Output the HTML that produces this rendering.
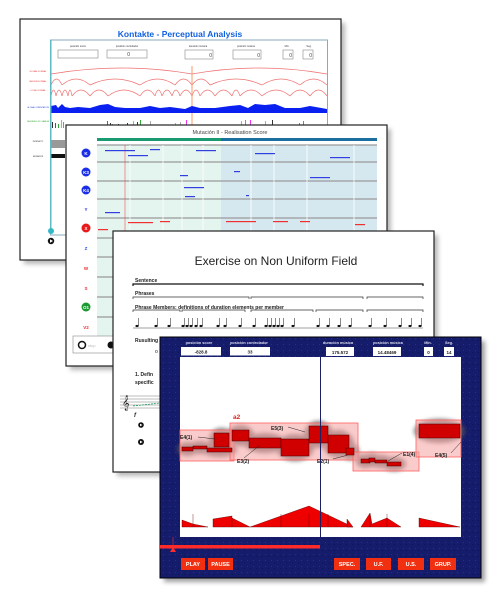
<!DOCTYPE html>
<html><head><meta charset="utf-8">
<style>
html,body{margin:0;padding:0;background:#fff;width:500px;height:600px;overflow:hidden}
svg{display:block;font-family:"Liberation Sans",sans-serif}
</style></head>
<body>
<svg id="s" width="500" height="600" viewBox="0 0 500 600">
<defs>
<filter id="sh" x="-10%" y="-10%" width="130%" height="130%"><feGaussianBlur stdDeviation="2.5"/></filter>
<filter id="bl" x="-30%" y="-50%" width="160%" height="200%"><feGaussianBlur stdDeviation="2.2"/></filter>
<pattern id="noise" width="6" height="6" patternUnits="userSpaceOnUse"><rect width="6" height="6" fill="#161c6c"/><rect x="1" y="2" width="1" height="1" fill="#2a3080"/><rect x="4" y="4" width="1" height="1" fill="#0e1358"/></pattern>
</defs>

<!-- PANEL 1 -->
<g>
<rect x="24" y="23" width="321" height="241" fill="#888" opacity="0.6" filter="url(#sh)"/>
<rect x="20" y="19" width="321" height="241" fill="#fff" stroke="#222" stroke-width="1.2"/>
<text x="180" y="37" text-anchor="middle" font-size="8.5" font-weight="bold" fill="#1060e0">Kontakte - Perceptual Analysis</text>
<rect x="50.5" y="40" width="277" height="195" fill="none" stroke="#8ab" stroke-width="1"/>
<g font-size="2.5" fill="#333" text-anchor="middle">
<text x="78" y="47">posición score</text><text x="127" y="47">posición controlador</text><text x="198" y="47">duración música</text><text x="246" y="47">posición música</text><text x="287" y="47">Min.</text><text x="309" y="47">Seg.</text></g>
<g fill="#fff" stroke="#888" stroke-width="0.6">
<rect x="58" y="50" width="40" height="8"/>
<rect x="107" y="50" width="40" height="8"/>
<rect x="185" y="50" width="28" height="9"/>
<rect x="233" y="50" width="28" height="9"/>
<rect x="283" y="50" width="10" height="9"/>
<rect x="303" y="50" width="10" height="9"/></g>
<g font-size="5" fill="#444" text-anchor="end"><text x="130" y="56">0</text><text x="212" y="57">0</text><text x="260" y="57">0</text><text x="292" y="57">0</text><text x="312" y="57">0</text></g>
<g font-size="2" fill="#e03030" text-anchor="middle"><text x="38" y="72">GLOBAL FORMAL</text><text x="38" y="82">MEDIUM FORMAL</text><text x="38" y="91">LOCAL FORMAL</text></g>
<text x="38" y="108" font-size="2" fill="#2040d0" text-anchor="middle">GLOBAL ORIENTATION</text>
<text x="38" y="122" font-size="2" fill="#20a020" text-anchor="middle">DEGREES OF CHANGE</text>
<text x="38" y="142" font-size="2" fill="#222" text-anchor="middle">INTENSITY</text>
<text x="38" y="157" font-size="2" fill="#222" text-anchor="middle">MOMENTS</text>
<g id="arcs" fill="none" stroke="#f07070" stroke-width="0.7"></g>
<line x1="192" y1="66" x2="192" y2="128" stroke="#f6a070" stroke-width="1.5" opacity="0.7"/>
<path d="M51,113 L51,106 L56,105 L58,108 L62,104 L65,107 L70,108 L78,107 L90,108 L100,105 L108,104 L115,107 L125,108 L140,108 L150,106 L160,108 L170,107 L185,109 L192,106 L200,108 L215,108 L230,106 L240,105 L248,108 L255,104 L265,105 L275,104 L285,108 L300,108 L310,106 L327,109 L327,113 Z" fill="#0a20f0"/>
<g id="bars1"></g>
<rect x="51" y="140" width="14" height="8" fill="#555" opacity="0.6"/>
<rect x="51" y="154" width="14" height="4" fill="#111"/>
<line x1="51" y1="40" x2="51" y2="230" stroke="#3cc" stroke-width="1"/>
<circle cx="51" cy="231" r="3" fill="#33b8c8"/>
<circle cx="51" cy="241" r="3.2" fill="#111"/>
<path d="M50,239.3 L53,241 L50,242.7Z" fill="#fff"/>
</g>

<!-- PANEL 2 -->
<g>
<rect x="70" y="129" width="321" height="241" fill="#888" opacity="0.6" filter="url(#sh)"/>
<rect x="66" y="125" width="321" height="241" fill="#fff" stroke="#222" stroke-width="1.2"/>
<text x="230" y="134" text-anchor="middle" font-size="5.5" fill="#444">Mutación II - Realisation Score</text>
<rect x="97" y="138" width="124" height="3" fill="#1a9a70"/>
<rect x="221" y="138" width="156" height="3" fill="#1a6fa0"/>
<rect x="97" y="145" width="124" height="195" fill="#e4f4ef"/>
<rect x="221" y="145" width="156" height="195" fill="#d6e8ef"/>
<g id="grid2" stroke="#999" stroke-width="0.8"></g>
<line x1="125" y1="145" x2="125" y2="240" stroke="#f05050" stroke-width="0.6"/>
<g id="notes2"></g>
<g font-size="4.5" font-weight="bold" text-anchor="middle">
<circle cx="86" cy="153" r="4.5" fill="#1a2ee8"/><text x="86" y="154.8" fill="#fff">K</text>
<circle cx="86" cy="172" r="4.5" fill="#1a2ee8"/><text x="86" y="173.8" fill="#fff">K3</text>
<circle cx="86" cy="190" r="4.5" fill="#1a2ee8"/><text x="86" y="191.8" fill="#fff">K4</text>
<text x="86" y="211" fill="#1a2ee8">Y</text>
<circle cx="86" cy="228" r="4.5" fill="#e81a1a"/><text x="86" y="229.8" fill="#fff">X</text>
<text x="86" y="250" fill="#1a5ae8">Z</text>
<text x="86" y="270" fill="#e83030">W</text>
<text x="86" y="290" fill="#e83030">S</text>
<circle cx="86" cy="307" r="4.5" fill="#1a9a30"/><text x="86" y="308.8" fill="#fff">O1</text>
<text x="86" y="329" fill="#e83030">V2</text></g>
<rect x="73" y="336" width="50" height="17" fill="#fff" stroke="#888" stroke-width="0.6"/>
<circle cx="82" cy="345" r="3.5" fill="none" stroke="#111" stroke-width="1.5"/>
<text x="88" y="347" font-size="4" fill="#bbb">stop</text>
<circle cx="111" cy="345" r="3.5" fill="#111"/>
</g>

<!-- PANEL 3 -->
<g>
<rect x="117" y="235" width="321" height="241" fill="#888" opacity="0.6" filter="url(#sh)"/>
<rect x="113" y="231" width="321" height="241" fill="#fff" stroke="#222" stroke-width="1.2"/>
<text x="276" y="265" text-anchor="middle" font-size="12" fill="#222">Exercise on Non Uniform Field</text>
<g font-size="5" font-weight="bold" fill="#222">
<text x="135" y="282">Sentence</text><text x="135" y="295">Phrases</text>
<text x="135" y="309">Phrase Members: definitions of duration elements per member</text>
<text x="135" y="342">Rusulting</text><text x="135" y="376">1. Defin</text><text x="135" y="384">specific</text></g>
<path d="M133,286 V284 H423 V286" fill="none" stroke="#111" stroke-width="1.2"/>
<g fill="none" stroke="#333" stroke-width="0.7">
<path d="M133,299 V297 H249 V299"/><path d="M251,299 V297 H363 V299"/><path d="M367,299 V297 H423 V299"/>
<path d="M133,312 V310 H180 V312"/><path d="M182,312 V310 H245 V312"/><path d="M251,312 V310 H313 V312"/><path d="M316,312 V310 H363 V312"/><path d="M367,312 V310 H423 V312"/></g>
<g id="notes3"></g>
<line x1="133" y1="328" x2="423" y2="328" stroke="#444" stroke-width="0.5"/>
<text x="155" y="353" font-size="5" fill="#222">o</text>
<g stroke="#555" stroke-width="0.4"><line x1="120" y1="396" x2="160" y2="396"/><line x1="120" y1="399" x2="160" y2="399"/><line x1="120" y1="402" x2="160" y2="402"/><line x1="120" y1="405" x2="160" y2="405"/><line x1="120" y1="408" x2="160" y2="408"/></g>
<text x="122" y="407" font-size="13" fill="#222">𝄞</text>
<line x1="133" y1="406" x2="160" y2="403" stroke="#20a060" stroke-width="0.8" stroke-dasharray="2,1"/>
<text x="134" y="417" font-size="6" font-style="italic" font-weight="bold" fill="#222">f</text>
<circle cx="141" cy="425" r="2.8" fill="#111"/>
<circle cx="141" cy="442" r="3" fill="#111"/>
<path d="M140,423.8 L142.5,425 L140,426.2Z M140,440.6 L142.7,442 L140,443.4Z" fill="#fff"/>
</g>

<!-- PANEL 4 -->
<g>
<rect x="164" y="341" width="321" height="241" fill="#777" opacity="0.7" filter="url(#sh)"/>
<rect x="160" y="337" width="321" height="241" fill="url(#noise)" stroke="#000" stroke-width="1"/>
<g font-size="3.8" font-weight="bold" fill="#dde" text-anchor="middle">
<text x="199" y="344">posición score</text><text x="249" y="344">posición controlador</text><text x="338" y="344">duración música</text><text x="388" y="344">posición música</text><text x="428" y="344">Min.</text><text x="449" y="344">Seg.</text></g>
<g fill="#fff"><rect x="181" y="347" width="40" height="8.5"/>
<rect x="230" y="347" width="40" height="8.5"/>
<rect x="326" y="347" width="28" height="9"/>
<rect x="373" y="347" width="28" height="9"/>
<rect x="424" y="347" width="9" height="9"/>
<rect x="444" y="347" width="10" height="9"/></g>
<g font-size="4.5" font-weight="bold" fill="#222" text-anchor="middle">
<text x="201" y="353.5">-828.8</text><text x="250" y="353.5">33</text><text x="340" y="354">175.572</text><text x="387" y="354">14.48469</text><text x="428.5" y="354">0</text><text x="449" y="354">14</text></g>
<rect x="180" y="357" width="281" height="180" fill="#fff"/>
<g id="shadows" fill="#555" opacity="0.75" filter="url(#bl)"></g>
<g id="boxes" fill="#f5a0a0" fill-opacity="0.55" stroke="#ff6060" stroke-width="0.8"></g>
<g id="blocks" fill="#d00000" stroke="#400" stroke-width="0.5"></g>
<g id="env" fill="#ee0000" stroke="#600" stroke-width="0.4"></g>
<g font-size="5" font-weight="bold" fill="#222">
<text x="180" y="439">E4(1)</text><text x="271" y="430">E5(3)</text><text x="237" y="463">E3(2)</text><text x="317" y="463">E2(1)</text><text x="403" y="456">E1(4)</text><text x="435" y="457">E4(5)</text></g>
<text x="233" y="419" font-size="6.5" font-weight="bold" fill="#e02020">a2</text>
<g stroke="#222" stroke-width="0.5"><line x1="198" y1="437" x2="215" y2="439"/><line x1="288" y1="427" x2="305" y2="432"/><line x1="244" y1="458" x2="260" y2="445"/><line x1="333" y1="459" x2="348" y2="455"/><line x1="402" y1="453" x2="388" y2="461"/><line x1="451" y1="453" x2="461" y2="442"/></g>
<line x1="320.5" y1="357" x2="320.5" y2="537" stroke="#1a2060" stroke-width="1"/>
<rect x="160" y="545" width="160" height="3.5" fill="#ff2a2a"/>
<line x1="173" y1="537" x2="173" y2="549" stroke="#ff2a2a" stroke-width="0.6"/>
<path d="M170,552 L173,547 L176,552Z" fill="#ff2a2a"/>
<g fill="#f03010"><rect x="181" y="558" width="24" height="12"/>
<rect x="208" y="558" width="25" height="12"/>
<rect x="334" y="558" width="26" height="12"/>
<rect x="366" y="558" width="25" height="12"/>
<rect x="398" y="558" width="26" height="12"/>
<rect x="430" y="558" width="26" height="12"/></g>
<g font-size="5.5" font-weight="bold" fill="#fff" text-anchor="middle">
<text x="193" y="566">PLAY</text><text x="220.5" y="566">PAUSE</text><text x="347" y="566">SPEC.</text><text x="378.5" y="566">U.F.</text><text x="411" y="566">U.S.</text><text x="443" y="566">GRUP.</text></g>
</g>
</svg>
<script>
const NS='http://www.w3.org/2000/svg';
function mk(p,tag,attrs){const e=document.createElementNS(NS,tag);for(const k in attrs)e.setAttribute(k,attrs[k]);document.getElementById(p).appendChild(e);return e;}
const arcRows=[[68,[51,192,327]],[79,[51,62,90,140,175,192,210,262,300,327]],[90,[51,56,62,68,72,90,108,140,155,162,172,180,192,200,215,232,240,262,290,310,327]]];
arcRows.forEach(r=>{const y=r[0],xs=r[1];for(let i=0;i<xs.length-1;i++){const a=xs[i],b=xs[i+1];const e=mk('arcs','path',{d:`M${a},${y+6} Q${(a+b)/2},${y-6} ${b},${y+6}`});

}});
const bars1=[[52,6,'#333'],[55,5,'#555'],[58,4,'#3a3'],[61,8,'#aaa'],[63,6,'#3c3'],[107,7,'#a3a'],[110,5,'#333'],[112,4,'#aaa'],[118,4,'#333'],[127,5,'#333'],[133,7,'#aaa'],[137,6,'#333'],[140,8,'#3a3'],[150,7,'#aaa'],[158,3,'#333'],[175,5,'#aaa'],[180,6,'#aaa'],[186,8,'#e3e'],[241,7,'#aaa'],[245,8,'#3c3'],[250,8,'#e3e'],[265,7,'#aaa'],[272,8,'#333'],[299,5,'#e3e'],[303,7,'#e3e']];
bars1.forEach(b=>{const e=mk('bars1','rect',{x:b[0],y:128-b[1],width:1,height:b[1],fill:b[2]});

});
[145,162,181,199,218,238,257,277,297,317].forEach(y=>{const e=mk('grid2','line',{x1:97,x2:377,y1:y,y2:y,'stroke-width':1.2});

});
[130,163,182,203,251,274,307,354].forEach(x=>{const e=mk('grid2','line',{x1:x,x2:x,y1:145,y2:340,stroke:'#fff','stroke-width':0.8});

});
const notes2=[[105,150,30,'#3040e0'],[128,155,20,'#3040e0'],[150,149,10,'#3040e0'],[196,150,20,'#3040e0'],[255,153,20,'#3040e0'],[330,157,20,'#3040e0'],[180,175,8,'#3040e0'],[234,171,6,'#3040e0'],[310,177,20,'#3040e0'],[184,187,20,'#3040e0'],[185,196,10,'#3040e0'],[246,195,3,'#3040e0'],[105,212,15,'#3040e0'],[98,229,10,'#f03030'],[128,222,25,'#f03030'],[160,221,10,'#f03030'],[226,221,30,'#f03030'],[273,221,15,'#f03030'],[300,221,10,'#f03030'],[355,224,10,'#f03030']];
notes2.forEach(n=>{const e=mk('notes2','rect',{x:n[0],y:n[1],width:n[2],height:1.2,fill:n[3]});

});
const notes3=[137,156,169,183,187,191,196,201,218,225,240,254,266,270,274,278,282,293,318,328,339,350,370,385,400,410,420];
notes3.forEach(x=>{const e=mk('notes3','ellipse',{cx:x,cy:326,rx:1.6,ry:1.1,fill:'#111'});


const s=mk('notes3','line',{x1:x+1.5,x2:x+1.5,y1:326,y2:318,stroke:'#111','stroke-width':0.5});

});
const boxes=[[180,430,54,31],[230,423,128,37],[353,452,66,19],[416,420,45,37]];
boxes.forEach(b=>{const e=mk('boxes','rect',{x:b[0],y:b[1],width:b[2],height:b[3]});

});
const blocks=[[182,447,11,4],[193,446,14,3],[207,448,25,4],[214,433,15,14],[232,430,17,11],[249,438,32,10],[281,439,28,17],[309,426,19,17],[328,435,21,18],[346,448,8,7],[361,459,9,4],[369,458,6,4],[375,460,12,3],[387,462,14,4],[419,424,41,14]];
blocks.forEach(b=>{const s=mk('shadows','ellipse',{cx:b[0]+b[2]/2,cy:b[1]+b[3]/2,rx:b[2]/2+5,ry:b[3]/2+5});


const e=mk('blocks','rect',{x:b[0],y:b[1],width:b[2],height:b[3]});

});
const env=['182,527 182,520 193,524 208,527','213,527 213,519 232,516 232,527','232,527 232,518 250,527','250,527 309,506 353,527','347,527 347,519 353,527','361,527 370,513 372,524 387,518 401,527','419,527 419,518 460,527'];
env.forEach(p=>{const e=mk('env','polygon',{points:p});

});
[193,281,309,328,370,387].forEach(x=>{const e=mk('env','line',{x1:x,x2:x,y1:514,y2:527,stroke:'#600','stroke-width':0.4});

});
</script>
</body></html>
